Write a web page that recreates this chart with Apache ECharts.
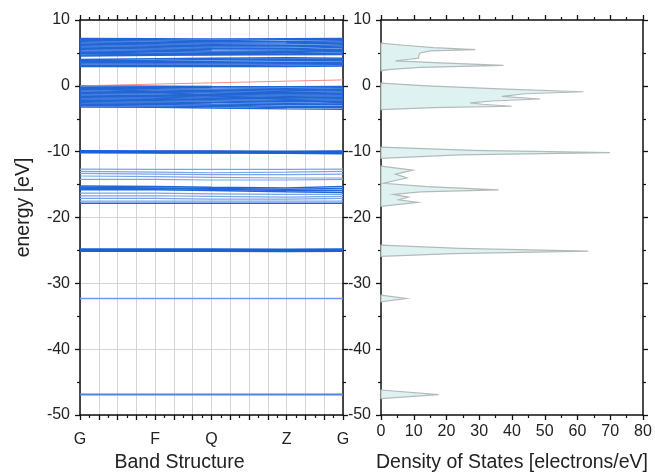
<!DOCTYPE html>
<html>
<head>
<meta charset="utf-8">
<script src="https://cdn.jsdelivr.net/npm/echarts@6/dist/echarts.min.js"></script>
<style>
  html, body { margin: 0; padding: 0; background: #fff; }
  #chart { width: 655px; height: 472px; }
</style>
</head>
<body>
<div id="chart"></div>
<script>
// k-path positions and labels
var kPoints = [0, 4, 7, 11, 14];
var kLabels = { 0: "G", 4: "F", 7: "Q", 11: "Z", 14: "G" };

// band energies (eV) at each k-point
var bandsConduction = [
  [7.2, 7.15, 7.1, 7.15, 7.2], [7.05, 7.0, 6.9, 7.0, 7.05], [6.9, 6.8, 6.7, 6.75, 6.85],
  [6.7, 6.6, 6.5, 6.55, 6.65], [6.5, 6.4, 6.3, 6.35, 6.45], [6.3, 6.2, 6.1, 6.1, 6.25],
  [6.1, 6.0, 5.9, 5.9, 6.05], [5.9, 5.8, 5.7, 5.65, 5.85], [5.7, 5.6, 5.5, 5.45, 5.6],
  [5.5, 5.4, 5.3, 5.25, 5.4], [5.3, 5.2, 5.1, 5.05, 5.2], [5.1, 5.0, 4.9, 4.85, 5.0],
  [4.9, 4.85, 4.8, 4.75, 4.8], [4.7, 4.75, 4.85, 5.1, 5.5], [4.55, 4.65, 4.7, 4.75, 4.75],
  [4.0, 4.1, 4.2, 4.25, 4.2], [3.85, 3.9, 4.0, 4.05, 4.0], [3.7, 3.7, 3.75, 3.8, 3.8],
  [3.5, 3.5, 3.5, 3.55, 3.6], [3.3, 3.3, 3.3, 3.35, 3.4], [3.1, 3.1, 3.1, 3.15, 3.2],
  [2.95, 2.95, 2.95, 2.95, 3.0]
];
var bandsValence = [
  [0.0, -0.05, -0.1, -0.15, -0.1], [-0.2, -0.25, -0.3, -0.35, -0.3], [-0.4, -0.45, -0.5, -0.55, -0.5],
  [-0.6, -0.65, -0.7, -0.8, -0.75], [-0.8, -0.85, -0.9, -1.0, -0.95], [-1.0, -1.05, -1.1, -1.2, -1.15],
  [-1.2, -1.25, -1.3, -1.4, -1.35], [-1.4, -1.45, -1.5, -1.6, -1.55], [-1.6, -1.65, -1.7, -1.8, -1.75],
  [-1.8, -1.85, -1.9, -2.0, -1.95], [-2.0, -2.05, -2.1, -2.2, -2.15], [-2.2, -2.25, -2.3, -2.4, -2.35],
  [-2.4, -2.45, -2.55, -2.65, -2.6], [-2.6, -2.65, -2.75, -2.85, -2.85], [-2.8, -2.85, -2.95, -3.1, -3.1],
  [-3.0, -3.05, -3.15, -3.3, -3.3], [-3.2, -3.25, -3.35, -3.5, -3.55], [-0.3, -0.9, -1.5, -2.0, -2.6],
  [-2.5, -2.0, -1.3, -0.8, -0.5]
];
var bands10 = [
  [-9.85, -9.9, -9.9, -9.95, -9.9], [-9.95, -10.0, -10.0, -10.05, -10.0], [-10.05, -10.1, -10.1, -10.15, -10.15],
  [-10.15, -10.2, -10.2, -10.25, -10.3]
];
var bands15Light = [
  [-12.65, -12.7, -12.7, -12.7, -12.65], [-13.0, -13.1, -13.2, -13.1, -13.0], [-13.3, -13.4, -13.5, -13.5, -13.4],
  [-13.7, -13.8, -13.9, -14.0, -14.0], [-14.2, -14.2, -14.3, -14.3, -14.2], [-16.3, -16.3, -16.4, -16.5, -16.5],
  [-16.7, -16.7, -16.8, -16.9, -16.8], [-17.1, -17.1, -17.2, -17.2, -17.1], [-17.5, -17.5, -17.5, -17.5, -17.5]
];
var bands15Dark = [
  [-15.2, -15.3, -15.4, -15.5, -15.3], [-15.4, -15.5, -15.6, -15.7, -15.6],
  [-15.6, -15.6, -15.7, -15.9, -15.9], [-15.8, -15.8, -15.9, -16.1, -16.2], [-17.85, -17.85, -17.85, -17.85, -17.85]
];
var bands25 = [
  [-24.8, -24.8, -24.8, -24.85, -24.8], [-24.95, -24.95, -24.95, -25.0, -24.95],
  [-25.1, -25.1, -25.1, -25.15, -25.1]
];
var bands32 = [[-32.3, -32.3, -32.3, -32.3, -32.3]];
var bands47 = [[-46.9, -46.9, -46.9, -46.9, -46.9]];
var fermiLine = [0.0, 0.26, 0.45, 0.71, 0.9];

// density of states outline: [energy, states]
var dosConduction = [[6.5, 0], [6.2, 6], [5.8, 16], [5.5, 28.8], [5.3, 15], [5.0, 12], [4.6, 11.5],
  [4.2, 11.5], [4.0, 8], [3.8, 4.4], [3.5, 18], [3.1, 37.4], [2.8, 12], [2.5, 3], [2.3, 0]];
var dosValence = [[0.4, 0], [0.0, 14], [-0.5, 38], [-0.9, 61.8], [-1.2, 44], [-1.6, 36.9],
  [-2.0, 48.6], [-2.3, 34], [-2.6, 27.2], [-2.8, 31], [-3.1, 39.9], [-3.3, 16], [-3.6, 0]];
var dos10 = [[-9.3, 0], [-9.8, 28], [-10.15, 69.9], [-10.5, 24], [-11.0, 0]];
var dos15 = [[-12.2, 0], [-12.8, 9.7], [-13.4, 4.4], [-14.0, 7.9], [-14.8, 0.8], [-15.3, 14],
  [-15.8, 35.9], [-16.1, 12], [-16.5, 3.8], [-16.9, 8.4], [-17.3, 5.4], [-17.7, 11.2], [-18.3, 0]];
var dos25 = [[-24.2, 0], [-24.7, 24], [-25.1, 63.3], [-25.5, 22], [-25.9, 0]];
var dos32 = [[-31.8, 0], [-32.3, 7.7], [-32.8, 0]];
var dos47 = [[-46.2, 0], [-46.9, 17.6], [-47.5, 0]];

var font = "'Liberation Sans', Arial, sans-serif";
var chart = echarts.init(document.getElementById("chart"));

function bandSeries(bands, color, width) {
  return bands.map(function (b) {
    return {
      type: "line", xAxisIndex: 0, yAxisIndex: 0, showSymbol: false, silent: true,
      data: kPoints.map(function (k, i) { return [k, b[i]]; }),
      lineStyle: { color: color, width: width, opacity: 1 },
      emphasis: { disabled: true }
    };
  });
}

function dosSeries(pts) {
  return {
    type: "custom", xAxisIndex: 2, yAxisIndex: 2, silent: true,
    data: pts.map(function (p) { return [p[1], p[0]]; }),
    renderItem: function (params, api) {
      if (params.dataIndex !== 0) return null;
      return {
        type: "polygon",
        shape: { points: pts.map(function (p) { return api.coord([p[1], p[0]]); }) },
        style: { fill: "#def2f1", stroke: "#b2baba", lineWidth: 1.2 }
      };
    }
  };
}

function frameAxis(extra) {
  var base = {
    type: "value", axisLine: { show: true, onZero: false, lineStyle: { color: "#111", width: 1.5 } },
    axisTick: { show: true, length: 5, lineStyle: { color: "#111", width: 1.3 } },
    minorTick: { show: true, splitNumber: 2, length: 3, lineStyle: { color: "#111", width: 1.2 } },
    axisLabel: { show: false }, splitLine: { show: false }
  };
  return Object.assign(base, extra);
}

var labelStyle = { color: "#222", fontSize: 16, fontFamily: font };
function nameStyle(padding) {
  return { color: "#222", fontSize: 19.5, fontFamily: font, padding: padding };
}

var series = []
  .concat(bandSeries(bandsConduction, "#2266d6", 1.5))
  .concat(bandSeries(bandsValence, "#2266d6", 1.5))
  .concat(bandSeries(bands10, "#1d62d4", 1.6))
  .concat(bandSeries(bands15Light, "#7aa3e8", 1.2))
  .concat(bandSeries(bands15Dark, "#2266d6", 1.5))
  .concat(bandSeries(bands25, "#1d62d4", 1.8))
  .concat(bandSeries(bands32, "#6b9be8", 1.5))
  .concat(bandSeries(bands47, "#4a86e2", 2));
series.push({
  type: "line", xAxisIndex: 0, yAxisIndex: 0, showSymbol: false, silent: true,
  data: kPoints.map(function (k, i) { return [k, fermiLine[i]]; }),
  lineStyle: { color: "#f08080", width: 0.9 }
});
[dosConduction, dosValence, dos10, dos15, dos25, dos32, dos47].forEach(function (d) {
  series.push(dosSeries(d));
});

var option = {
  animation: false,
  backgroundColor: "#fff",
  grid: [
    { left: 80, top: 20, width: 263, height: 395, outerBoundsMode: "none" },
    { left: 381, top: 20, width: 262, height: 395, outerBoundsMode: "none" }
  ],
  xAxis: [
    frameAxis({
      gridIndex: 0, position: "bottom", min: 0, max: 14, interval: 1,
      axisLabel: Object.assign({ show: true, margin: 17, formatter: function (v) { return kLabels[v] || ""; } }, labelStyle),
      splitLine: { show: true, lineStyle: { color: "#d4d4d4", width: 1 } },
      name: "Band Structure", nameLocation: "middle", nameGap: 38, nameTextStyle: nameStyle([0, 64, 0, 0])
    }),
    frameAxis({ gridIndex: 0, position: "top", min: 0, max: 14, interval: 1 }),
    frameAxis({
      gridIndex: 1, position: "bottom", min: 0, max: 80, interval: 10,
      axisLabel: Object.assign({ show: true, margin: 9 }, labelStyle),
      name: "Density of States [electrons/eV]", nameLocation: "middle", nameGap: 38, nameTextStyle: nameStyle(0)
    }),
    frameAxis({ gridIndex: 1, position: "top", min: 0, max: 80, interval: 10 })
  ],
  yAxis: [
    frameAxis({
      gridIndex: 0, position: "left", min: -50, max: 10, interval: 10,
      axisLabel: Object.assign({ show: true, margin: 10 }, labelStyle),
      splitLine: { show: true, lineStyle: { color: "#d4d4d4", width: 1 } },
      name: "energy [eV]", nameLocation: "middle", nameGap: 46, nameTextStyle: nameStyle([0, 0, 0, 20])
    }),
    frameAxis({ gridIndex: 0, position: "right", min: -50, max: 10, interval: 10 }),
    frameAxis({
      gridIndex: 1, position: "left", min: -50, max: 10, interval: 10,
      axisLabel: Object.assign({ show: true, margin: 10 }, labelStyle)
    }),
    frameAxis({ gridIndex: 1, position: "right", min: -50, max: 10, interval: 10 })
  ],
  series: series
};

chart.setOption(option);
</script>
</body>
</html>
